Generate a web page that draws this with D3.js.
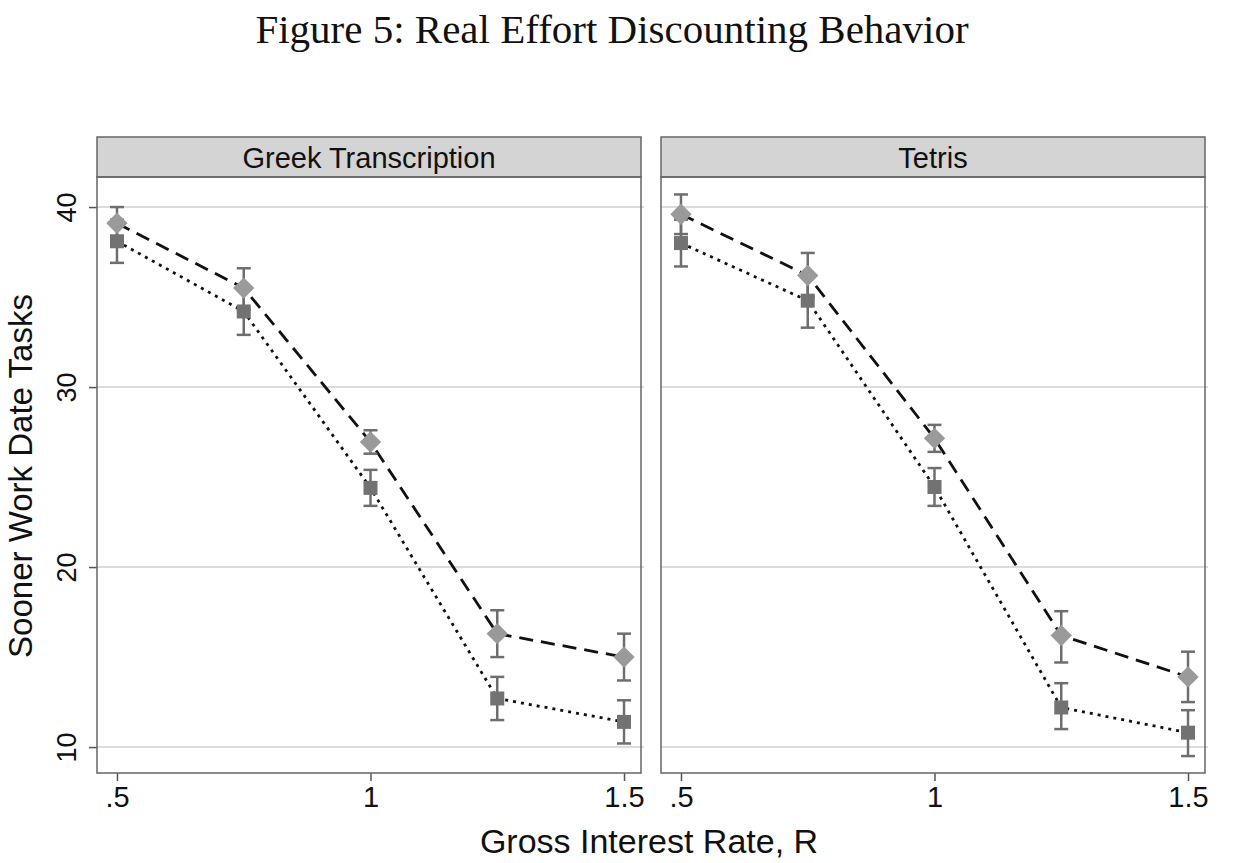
<!DOCTYPE html>
<html>
<head>
<meta charset="utf-8">
<script src="https://cdn.jsdelivr.net/npm/d3@7"></script>
<style>
  body { margin: 0; background: #fff; }
  svg { display: block; }
</style>
</head>
<body>
<script>
// data
const panels = ['Greek Transcription', 'Tetris'];
const rates = [0.5, 0.75, 1, 1.25, 1.5];
const xTicks = [0.5, 1, 1.5];
const xTickLabels = ['.5', '1', '1.5'];
const yTicks = [10, 20, 30, 40];

const greekDiamond   = [39.1, 35.5, 26.95, 16.3, 15.0];
const greekDiamondLo = [38.1, 34.3, 26.3, 15.0, 13.7];
const greekDiamondHi = [40.0, 36.6, 27.6, 17.6, 16.3];
const greekSquare    = [38.1, 34.2, 24.4, 12.7, 11.4];
const greekSquareLo  = [36.9, 32.9, 23.4, 11.5, 10.2];
const greekSquareHi  = [39.3, 35.4, 25.4, 13.9, 12.6];

const tetrisDiamond   = [39.6, 36.2, 27.15, 16.2, 13.9];
const tetrisDiamondLo = [38.5, 35.0, 26.4, 14.7, 12.5];
const tetrisDiamondHi = [40.7, 37.45, 27.9, 17.55, 15.3];
const tetrisSquare    = [38.0, 34.8, 24.45, 12.2, 10.8];
const tetrisSquareLo  = [36.7, 33.3, 23.4, 11.0, 9.5];
const tetrisSquareHi  = [39.3, 36.2, 25.5, 13.55, 12.05];

const W = 1234, H = 863;
const sans = 'Liberation Sans, Arial, sans-serif';
const panelLeft = [97, 661], panelW = 544;
const headTop = 137, plotTop = 177, plotH = 596;

const svg = d3.select('body').append('svg')
    .attr('width', W).attr('height', H);

svg.append('text')
    .attr('x', 612).attr('y', 43)
    .attr('text-anchor', 'middle')
    .attr('font-family', 'Liberation Serif, DejaVu Serif, serif')
    .attr('font-size', 41)
    .attr('fill', '#111')
    .text('Figure 5: Real Effort Discounting Behavior');

let x = d3.scaleLinear().domain([0.4606, 1.5335]).range([0, panelW]);
let y = d3.scaleLinear().domain([8.56, 41.67]).range([plotH, 0]);

function series(mid, lo, hi) {
    return rates.map((r, i) => ({r: r, v: mid[i], lo: lo[i], hi: hi[i]}));
}

const panelData = [
    {diamond: series(greekDiamond, greekDiamondLo, greekDiamondHi),
     square: series(greekSquare, greekSquareLo, greekSquareHi)},
    {diamond: series(tetrisDiamond, tetrisDiamondLo, tetrisDiamondHi),
     square: series(tetrisSquare, tetrisSquareLo, tetrisSquareHi)}
];

panels.forEach((name, p) => {
    // header strip
    svg.append('rect')
        .attr('x', panelLeft[p]).attr('y', headTop)
        .attr('width', panelW).attr('height', plotTop - headTop)
        .attr('fill', '#d4d4d4').attr('stroke', '#666').attr('stroke-width', 1.5);
    svg.append('text')
        .attr('x', panelLeft[p] + panelW / 2).attr('y', headTop + 31)
        .attr('text-anchor', 'middle')
        .attr('font-family', sans).attr('font-size', 29).attr('fill', '#111')
        .text(name);

    let g = svg.append('g').attr('transform', `translate(${panelLeft[p]},${plotTop})`);

    // grid
    g.selectAll('line.grid').data(yTicks).enter().append('line')
        .attr('class', 'grid')
        .attr('x1', 0).attr('x2', panelW + 3)
        .attr('y1', d => y(d)).attr('y2', d => y(d))
        .attr('stroke', '#dcdcdc').attr('stroke-width', 2);

    // x axis
    let xa = g.append('g').attr('transform', `translate(0,${plotH})`)
        .call(d3.axisBottom(x).tickValues(xTicks).tickSize(8).tickPadding(5)
            .tickFormat((d, i) => xTickLabels[i]));
    xa.select('.domain').remove();
    xa.selectAll('line').attr('stroke', '#555').attr('stroke-width', 1.5);
    xa.selectAll('text').attr('font-family', sans).attr('font-size', 29).attr('fill', '#111');

    // y axis only on the first panel
    if (p === 0) {
        let ya = g.append('g')
            .call(d3.axisLeft(y).tickValues(yTicks).tickSize(8).tickFormat(d3.format('d')));
        ya.select('.domain').remove();
        ya.selectAll('line').attr('stroke', '#555').attr('stroke-width', 1.5);
        ya.selectAll('text')
            .attr('x', null).attr('dy', null)
            .attr('transform', 'translate(-21,0) rotate(-90)')
            .attr('text-anchor', 'middle')
            .attr('font-family', sans).attr('font-size', 27).attr('fill', '#111');
    }

    let d = panelData[p];
    let line = d3.line().x(e => x(e.r)).y(e => y(e.v));

    g.append('path').datum(d.diamond).attr('d', line)
        .attr('fill', 'none').attr('stroke', '#111').attr('stroke-width', 2.8)
        .attr('stroke-dasharray', '14,8');
    g.append('path').datum(d.square).attr('d', line)
        .attr('fill', 'none').attr('stroke', '#111').attr('stroke-width', 2.8)
        .attr('stroke-dasharray', '3,5');

    // error bars
    [d.diamond, d.square].forEach(s => {
        let eb = g.append('g').selectAll('g').data(s).enter().append('g')
            .attr('stroke', '#6e6e6e').attr('stroke-width', 2.5);
        eb.append('line').attr('x1', e => x(e.r)).attr('x2', e => x(e.r))
            .attr('y1', e => y(e.lo)).attr('y2', e => y(e.hi));
        eb.append('line').attr('x1', e => x(e.r) - 7).attr('x2', e => x(e.r) + 7)
            .attr('y1', e => y(e.lo)).attr('y2', e => y(e.lo));
        eb.append('line').attr('x1', e => x(e.r) - 7).attr('x2', e => x(e.r) + 7)
            .attr('y1', e => y(e.hi)).attr('y2', e => y(e.hi));
    });

    // markers
    g.selectAll('path.diamond').data(d.diamond).enter().append('path')
        .attr('class', 'diamond')
        .attr('d', d3.symbol().type(d3.symbolDiamond2).size(290))
        .attr('transform', e => `translate(${x(e.r)},${y(e.v)})`)
        .attr('fill', '#9a9a9a');
    g.selectAll('rect.square').data(d.square).enter().append('rect')
        .attr('class', 'square')
        .attr('x', e => x(e.r) - 7).attr('y', e => y(e.v) - 7)
        .attr('width', 14).attr('height', 14)
        .attr('fill', '#727272');

    // frame
    g.append('rect').attr('width', panelW).attr('height', plotH)
        .attr('fill', 'none').attr('stroke', '#666').attr('stroke-width', 1.5);
});

svg.append('text')
    .attr('transform', 'translate(32,476) rotate(-90)')
    .attr('text-anchor', 'middle')
    .attr('font-family', sans).attr('font-size', 33).attr('fill', '#111')
    .text('Sooner Work Date Tasks');

svg.append('text')
    .attr('x', 649).attr('y', 853)
    .attr('text-anchor', 'middle')
    .attr('font-family', sans).attr('font-size', 34).attr('fill', '#111')
    .text('Gross Interest Rate, R');
</script>
</body>
</html>
